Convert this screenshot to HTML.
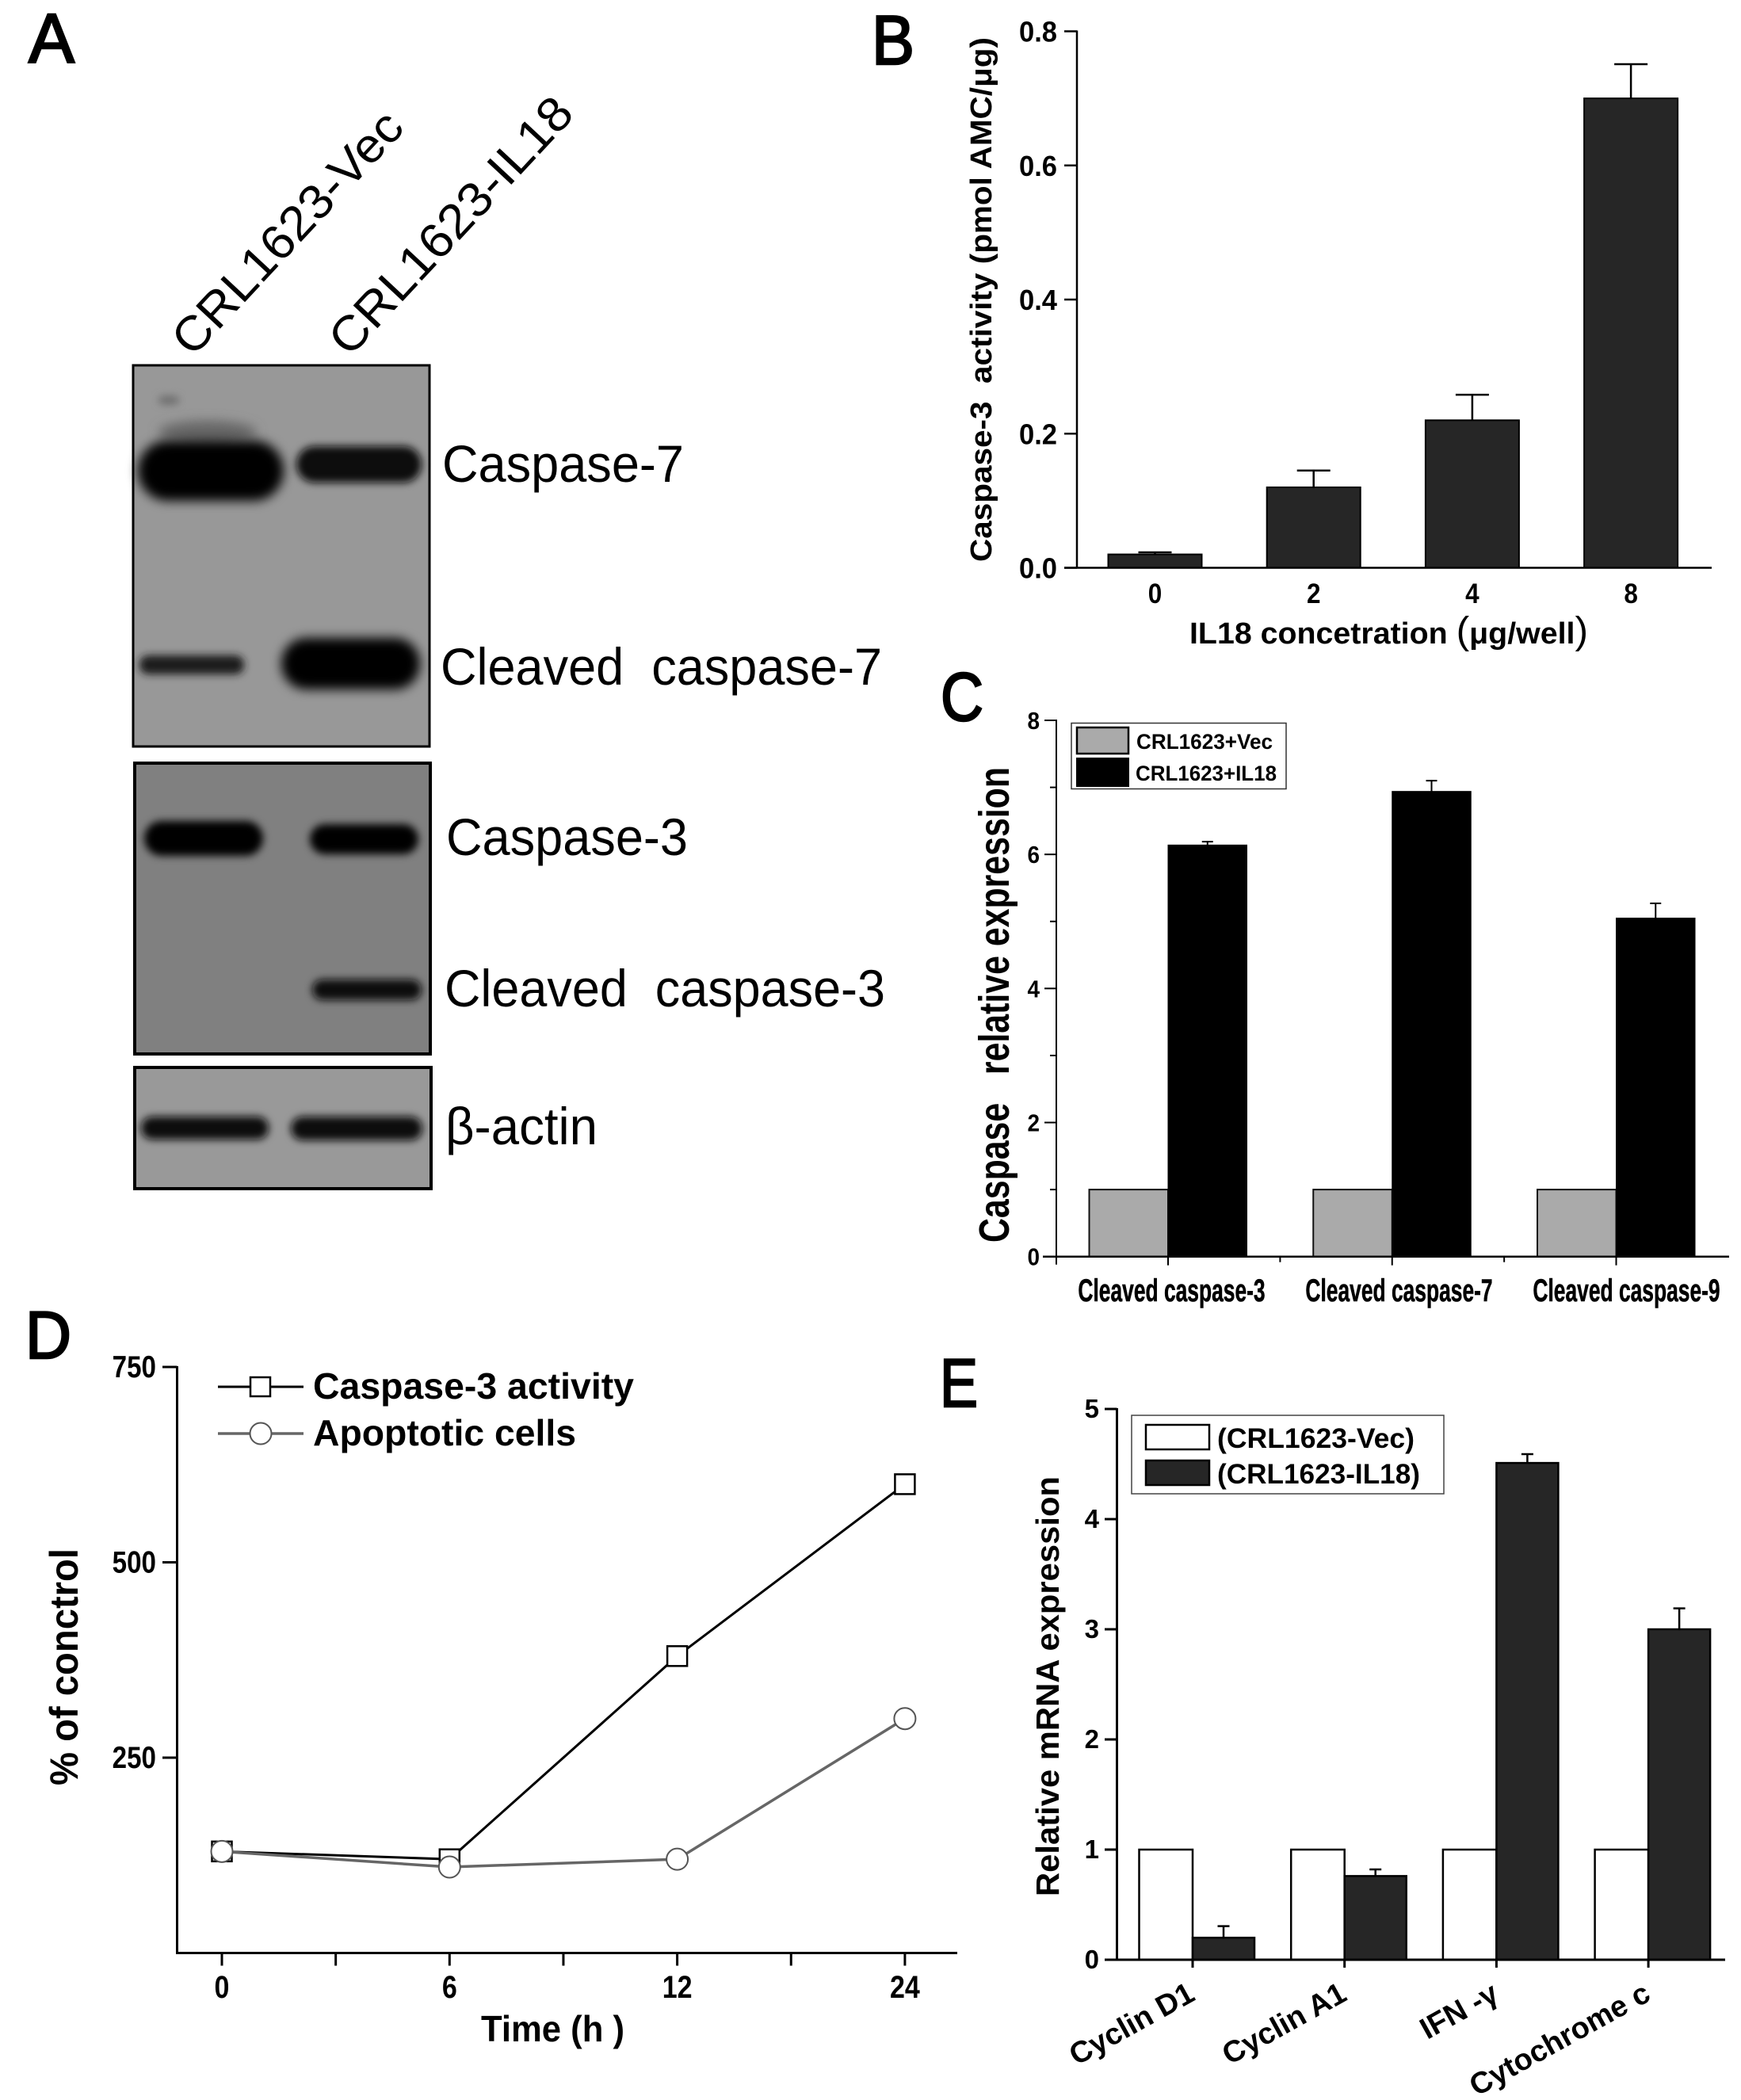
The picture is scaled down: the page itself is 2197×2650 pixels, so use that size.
<!DOCTYPE html>
<html lang="en">
<head>
<meta charset="utf-8">
<title>Caspase activation figure</title>
<style>
html,body{margin:0;padding:0;background:#fff;}
svg{display:block;}
text{font-family:"Liberation Sans","Noto Sans CJK SC",sans-serif;fill:#000;white-space:pre;}
.bold{font-weight:bold;}
</style>
</head>
<body>
<svg id="fig" xmlns="http://www.w3.org/2000/svg" width="2197" height="2650" viewBox="0 0 2197 2650">
<defs>
<filter id="blur7" x="-30%" y="-60%" width="160%" height="220%"><feGaussianBlur stdDeviation="7"/></filter>
<filter id="blur5" x="-30%" y="-80%" width="160%" height="260%"><feGaussianBlur stdDeviation="5"/></filter>
<filter id="blur9" x="-30%" y="-80%" width="160%" height="260%"><feGaussianBlur stdDeviation="9"/></filter>
</defs>
<rect width="2197" height="2650" fill="#fff"/>

<!-- Panel letters -->
<g fill="#000" stroke="#000" stroke-width="2.5">
<text x="36" y="79" font-size="88" textLength="58" lengthAdjust="spacingAndGlyphs" stroke="#000" stroke-width="2.5">A</text>
<text x="1100" y="81" font-size="88" textLength="54" lengthAdjust="spacingAndGlyphs" stroke="#000" stroke-width="2.5">B</text>
<text x="1187" y="909" font-size="86" textLength="54" lengthAdjust="spacingAndGlyphs" stroke="#000" stroke-width="2.5">C</text>
<text x="32" y="1714" font-size="84" textLength="58" lengthAdjust="spacingAndGlyphs" stroke="#000" stroke-width="2.5">D</text>
<text x="1186" y="1775" font-size="86" textLength="48" lengthAdjust="spacingAndGlyphs" stroke="#000" stroke-width="2.5">E</text>
</g>

<!-- Panel A -->
<g>
<text transform="translate(243 452) rotate(-47)" font-size="61" textLength="395" lengthAdjust="spacingAndGlyphs">CRL1623-Vec</text>
<text transform="translate(441 452) rotate(-47)" font-size="61" textLength="419" lengthAdjust="spacingAndGlyphs">CRL1623-IL18</text>

<g>
<rect x="168" y="461" width="374" height="481" fill="#989898"/>
<ellipse cx="213" cy="505" rx="14" ry="6" fill="#6e6e6e" filter="url(#blur5)"/>
<ellipse cx="262" cy="545" rx="62" ry="14" fill="#666" filter="url(#blur7)"/>
<rect x="174" y="556" width="184" height="76" rx="38" fill="#050505" filter="url(#blur7)"/>
<rect x="374" y="563" width="158" height="46" rx="23" fill="#0a0a0a" filter="url(#blur5)"/>
<rect x="176" y="827" width="132" height="24" rx="11" fill="#1d1d1d" filter="url(#blur5)"/>
<rect x="355" y="805" width="175" height="65" rx="32" fill="#050505" filter="url(#blur7)"/>
<rect x="168" y="461" width="374" height="481" fill="none" stroke="#000" stroke-width="3"/>
</g>

<g>
<rect x="170" y="963" width="373" height="367" fill="#808080"/>
<rect x="182" y="1036" width="150" height="44" rx="22" fill="#030303" filter="url(#blur5)"/>
<rect x="391" y="1040" width="137" height="38" rx="19" fill="#050505" filter="url(#blur5)"/>
<rect x="394" y="1236" width="138" height="26" rx="13" fill="#080808" filter="url(#blur5)"/>
<rect x="170" y="963" width="373" height="367" fill="none" stroke="#000" stroke-width="4"/>
</g>

<g>
<rect x="170" y="1347" width="374" height="153" fill="#999"/>
<rect x="178" y="1409" width="161" height="29" rx="14" fill="#0a0a0a" filter="url(#blur5)"/>
<rect x="367" y="1409" width="166" height="30" rx="15" fill="#0a0a0a" filter="url(#blur5)"/>
<rect x="170" y="1347" width="374" height="153" fill="none" stroke="#000" stroke-width="4"/>
</g>

<text x="558" y="608" font-size="66" textLength="305" lengthAdjust="spacingAndGlyphs">Caspase-7</text>
<text x="556" y="864" font-size="66" textLength="557" lengthAdjust="spacingAndGlyphs">Cleaved  caspase-7</text>
<text x="563" y="1079" font-size="66" textLength="305" lengthAdjust="spacingAndGlyphs">Caspase-3</text>
<text x="561" y="1270" font-size="66" textLength="556" lengthAdjust="spacingAndGlyphs">Cleaved  caspase-3</text>
<text x="562" y="1444" font-size="66" textLength="192" lengthAdjust="spacingAndGlyphs">β-actin</text>
</g>

<!-- Panel B -->
<g id="panelB">
<text transform="translate(1251 709) rotate(-90)" class="bold" font-size="38" textLength="662" lengthAdjust="spacingAndGlyphs">Caspase-3  activity (pmol AMC/μg)</text>
<text x="1501" y="812" class="bold" font-size="38" textLength="503" lengthAdjust="spacingAndGlyphs">IL18 concetration <tspan font-size="48" font-weight="normal">(</tspan>μg/well<tspan font-size="48" font-weight="normal">)</tspan></text>
</g>

<!-- Panel C -->
<g id="panelC">
<text transform="translate(1273 1568) rotate(-90)" class="bold" font-size="54" textLength="600" lengthAdjust="spacingAndGlyphs">Caspase   relative expression</text>
<g>
<rect x="1352" y="912.5" width="271" height="83" fill="#fff" stroke="#333" stroke-width="1.5"/>
<rect x="1359" y="918" width="65" height="33" fill="#aaa" stroke="#000" stroke-width="2.5"/>
<rect x="1358" y="956" width="67" height="37" fill="#000"/>
<text x="1434" y="945" class="bold" font-size="27" textLength="172" lengthAdjust="spacingAndGlyphs">CRL1623+Vec</text>
<text x="1433" y="985" class="bold" font-size="27" textLength="178" lengthAdjust="spacingAndGlyphs">CRL1623+IL18</text>
</g>
</g>

<!-- Panel D -->
<g id="panelD">
<text transform="translate(98 2253) rotate(-90)" class="bold" font-size="50" textLength="299" lengthAdjust="spacingAndGlyphs">% of conctrol</text>
<text x="607" y="2576" class="bold" font-size="46" textLength="181" lengthAdjust="spacingAndGlyphs">Time (h )</text>
<g>
<line x1="275" y1="1750" x2="383" y2="1750" stroke="#000" stroke-width="3"/>
<rect x="316" y="1738" width="25" height="24" fill="#fff" stroke="#000" stroke-width="2.5"/>
<text x="395" y="1765" class="bold" font-size="46" textLength="405" lengthAdjust="spacingAndGlyphs">Caspase-3 activity</text>
<line x1="275" y1="1809" x2="383" y2="1809" stroke="#666" stroke-width="3.5"/>
<circle cx="329" cy="1809" r="13.5" fill="#fff" stroke="#555" stroke-width="2"/>
<text x="395" y="1824" class="bold" font-size="46" textLength="332" lengthAdjust="spacingAndGlyphs">Apoptotic cells</text>
</g>
</g>

<!-- Panel E -->
<g id="panelE">
<text transform="translate(1336 2393) rotate(-90)" class="bold" font-size="41" textLength="530" lengthAdjust="spacingAndGlyphs">Relative mRNA expression</text>
<g>
<rect x="1428" y="1786" width="394" height="99" fill="#fff" stroke="#444" stroke-width="1.5"/>
<rect x="1446" y="1798" width="80" height="31" fill="#fff" stroke="#000" stroke-width="2.5"/>
<rect x="1446" y="1843" width="80" height="31" fill="#262626" stroke="#000" stroke-width="2.5"/>
<text x="1536" y="1827" class="bold" font-size="35" textLength="249" lengthAdjust="spacingAndGlyphs">(CRL1623-Vec)</text>
<text x="1536" y="1872" class="bold" font-size="35" textLength="256" lengthAdjust="spacingAndGlyphs">(CRL1623-IL18)</text>
</g>
</g>
</svg>

<script>
// Panel B data
const bCategories = ['0', '2', '4', '8'];
const bValues = [0.02, 0.12, 0.22, 0.70];
const bErrorTops = [0.023, 0.145, 0.258, 0.751];
const bTicks = [0, 0.2, 0.4, 0.6, 0.8];
const bTickLabels = ['0.0', '0.2', '0.4', '0.6', '0.8'];

// Panel C data
const cCategories = ['Cleaved caspase-3', 'Cleaved caspase-7', 'Cleaved caspase-9'];
const cVec = [1, 1, 1];
const cIL18 = [6.14, 6.94, 5.05];
const cErrorTops = [6.19, 7.10, 5.27];
const cMajorTicks = [0, 2, 4, 6, 8];
const cMinorTicks = [1, 3, 5, 7];

// Panel D data
const dTimes = ['0', '6', '12', '24'];
const dCaspase = [130, 120, 380, 600];
const dApoptotic = [130, 110, 120, 300];
const dTicks = [250, 500, 750];

// Panel E data
const eCategories = ['Cyclin D1', 'Cyclin A1', 'IFN -γ', 'Cytochrome c'];
const eVec = [1, 1, 1, 1];
const eIL18 = [0.2, 0.76, 4.51, 3.0];
const eErrorTops = [0.305, 0.82, 4.59, 3.19];
const eTicks = [0, 1, 2, 3, 4, 5];

const NS = 'http://www.w3.org/2000/svg';

function make(tag, parent, props) {
  const node = document.createElementNS(NS, tag);
  for (const key in props) node.setAttribute(key, props[key]);
  parent.appendChild(node);
  return node;
}
function drawLine(parent, x1, y1, x2, y2, color, width, name) {
  const el = make('line', parent, {x1: x1, y1: y1, x2: x2, y2: y2, stroke: color, 'stroke-width': width});
  
  
  return el;
}
function drawRect(parent, x, y, w, h, fill, stroke, sw, name) {
  const el = make('rect', parent, {x: x, y: y, width: w, height: h, fill: fill, stroke: stroke, 'stroke-width': sw});
  
  
  return el;
}
function drawText(parent, str, x, y, size, anchor, squeeze, name) {
  const el = make('text', parent, {
    transform: 'translate(' + x + ' ' + y + ') scale(' + squeeze + ' 1)',
    'font-size': size, 'text-anchor': anchor, 'class': 'bold'
  });
  el.textContent = str;
  
  
  return el;
}
function drawError(parent, cx, yTop, yBase, capW, sw, name) {
  drawLine(parent, cx, yBase, cx, yTop, '#000', sw, name + '-stem');
  drawLine(parent, cx - capW / 2, yTop, cx + capW / 2, yTop, '#000', sw, name + '-cap');
}

/* ---------- Panel B ---------- */
(function () {
  const g = document.getElementById('panelB');
  const y = v => 716.5 - v / 0.8 * 677;
  const x = i => 1457.5 + i * 200.2;
  const barW = 118;
  bValues.forEach((v, i) => {
    drawError(g, x(i), y(bErrorTops[i]), y(v), 42, 2.5, 'error-bar-' + bCategories[i]);
    drawRect(g, x(i) - barW / 2, y(v), barW, y(0) - y(v), '#262626', '#000', 2, 'bar-' + bCategories[i]);
    drawText(g, bCategories[i], x(i), 761, 35, 'middle', 0.9, 'x-tick-label-' + bCategories[i]);
  });
  drawLine(g, 1359, y(0.8) - 1, 1359, y(0) + 1, '#000', 2.5, 'y-axis');
  drawLine(g, 1343, y(0), 2160, y(0), '#000', 2.5, 'x-axis');
  bTicks.forEach((t, i) => {
    drawLine(g, 1343, y(t), 1359, y(t), '#000', 2.5, 'y-tick-' + bTickLabels[i]);
    drawText(g, bTickLabels[i], 1334, y(t) + 13, 36, 'end', 0.96, 'y-tick-label-' + bTickLabels[i]);
  });
})();

/* ---------- Panel C ---------- */
(function () {
  const g = document.getElementById('panelC');
  const y = v => 1585.7 - v / 8 * 676.7;
  const x = i => 1474 + i * 282.75;
  const barW = 99.5;
  cCategories.forEach((c, i) => {
    drawError(g, x(i) + barW / 2, y(cErrorTops[i]), y(cIL18[i]), 14, 2, 'error-bar-' + c.slice(-1));
    drawRect(g, x(i) - barW, y(cVec[i]), barW, y(0) - y(cVec[i]), '#aaa', '#111', 2, 'bar-vec-' + c.slice(-1));
    drawRect(g, x(i), y(cIL18[i]), barW, y(0) - y(cIL18[i]), '#000', '#000', 1, 'bar-il18-' + c.slice(-1));
    const lab = drawText(g, c, 1478.5 + i * 287, 1642, 40, 'middle', 0.66, 'x-tick-label-' + c.slice(-1));
    lab.setAttribute('stroke', '#000');
    lab.setAttribute('stroke-width', '0.6');
  });
  drawLine(g, 1333, y(8) - 1, 1333, y(0) + 10, '#000', 2, 'y-axis');
  drawLine(g, 1316, y(0), 2182, y(0), '#000', 2.5, 'x-axis');
  cMajorTicks.forEach(t => {
    drawLine(g, 1318, y(t), 1333, y(t), '#000', 2, 'y-tick-' + t);
    drawText(g, String(t), 1312, y(t) + 11, 31, 'end', 0.9, 'y-tick-label-' + t);
  });
  cMinorTicks.forEach(t => {
    drawLine(g, 1325, y(t), 1333, y(t), '#000', 2, 'y-minor-tick-' + t);
  });
  for (let k = 0; k < cCategories.length; k++) {
    drawLine(g, x(k), y(0), x(k), y(0) + 11, '#000', 2, 'x-tick-' + k);
    if (k < cCategories.length - 1) {
      drawLine(g, x(k) + 141.4, y(0), x(k) + 141.4, y(0) + 7, '#000', 2, 'x-minor-tick-' + k);
    }
  }
})();

/* ---------- Panel D ---------- */
(function () {
  const g = document.getElementById('panelD');
  const y = v => 2464.5 - v * 0.986;
  const x = i => 280 + i * 287.3;
  drawLine(g, 223.5, y(750) - 1, 223.5, y(0) + 1.5, '#000', 3, 'y-axis');
  drawLine(g, 222, y(0), 1208, y(0), '#000', 3, 'x-axis');
  dTicks.forEach(t => {
    drawLine(g, 205, y(t), 223.5, y(t), '#000', 3, 'y-tick-' + t);
    drawText(g, String(t), 197, y(t) + 13, 39, 'end', 0.85, 'y-tick-label-' + t);
  });
  dTimes.forEach((t, i) => {
    drawLine(g, x(i), y(0), x(i), y(0) + 16, '#000', 3, 'x-tick-' + t);
    drawText(g, t, x(i), 2521, 40, 'middle', 0.85, 'x-tick-label-' + t);
    if (i < dTimes.length - 1) {
      drawLine(g, x(i) + 143.65, y(0), x(i) + 143.65, y(0) + 16, '#000', 3, 'x-minor-tick-' + t);
    }
  });
  const caspaseLine = make('polyline', g, {
    points: dCaspase.map((v, i) => x(i) + ',' + y(v)).join(' '),
    fill: 'none', stroke: '#000', 'stroke-width': 3
  });
  
  
  dCaspase.forEach((v, i) => {
    drawRect(g, x(i) - 12.5, y(v) - 12.5, 25, 25, '#fff', '#000', 2.5, 'point-caspase-' + dTimes[i]);
  });
  const apoptoticLine = make('polyline', g, {
    points: dApoptotic.map((v, i) => x(i) + ',' + y(v)).join(' '),
    fill: 'none', stroke: '#666', 'stroke-width': 3.5
  });
  
  
  dApoptotic.forEach((v, i) => {
    const c = make('circle', g, {cx: x(i), cy: y(v), r: 13.5, fill: '#fff', stroke: '#555', 'stroke-width': 2});
    
    
  });
})();

/* ---------- Panel E ---------- */
(function () {
  const g = document.getElementById('panelE');
  const y = v => 2473 - v * 139;
  const x = i => 1505 + i * 191.7;
  eCategories.forEach((c, i) => {
    drawError(g, x(i) + 39, y(eErrorTops[i]), y(eIL18[i]), 15, 2.5, 'error-bar-' + i);
    drawRect(g, x(i) - 67.5, y(eVec[i]), 67.5, y(0) - y(eVec[i]), '#fff', '#000', 2.5, 'bar-vec-' + i);
    drawRect(g, x(i), y(eIL18[i]), 78, y(0) - y(eIL18[i]), '#262626', '#000', 2.5, 'bar-il18-' + i);
    const lab = make('text', g, {
      transform: 'translate(' + (x(i) + 5) + ' 2523) rotate(-29)',
      'font-size': 38, 'text-anchor': 'end', 'class': 'bold'
    });
    lab.textContent = c;
    
    
    drawLine(g, x(i), y(0), x(i), y(0) + 10, '#000', 3, 'x-tick-' + i);
  });
  drawLine(g, 1409.5, y(5) - 1, 1409.5, y(0) + 1, '#000', 3, 'y-axis');
  drawLine(g, 1394, y(0), 2177, y(0), '#000', 3, 'x-axis');
  eTicks.forEach(t => {
    drawLine(g, 1394, y(t), 1409.5, y(t), '#000', 3, 'y-tick-' + t);
    drawText(g, String(t), 1387, y(t) + 11, 33, 'end', 1.0, 'y-tick-label-' + t);
  });
})();
</script>
</body>
</html>
